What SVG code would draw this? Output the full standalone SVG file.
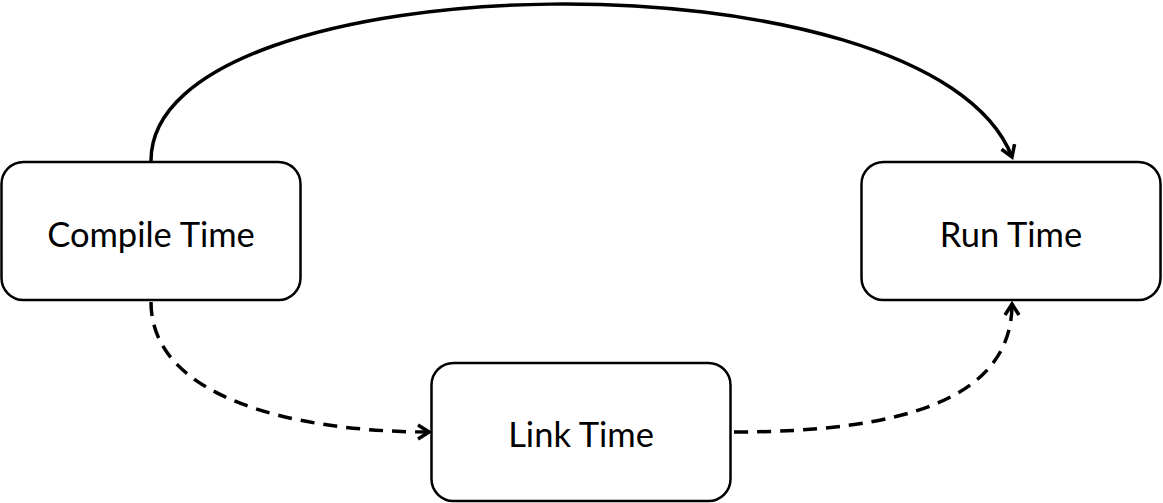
<svg xmlns="http://www.w3.org/2000/svg" width="1163" height="503" viewBox="0 0 1163 503">
<style>
.box{fill:#fff;stroke:#000;stroke-width:2.5}
.lbl{font-family:Lato,"Open Sans",sans-serif;font-size:34.5px;fill:#000;text-anchor:middle}
.edge{fill:none;stroke:#000;stroke-width:3.5}
.dash{stroke-dasharray:14 9}
</style>
<defs>
<marker id="arr" viewBox="0 0 16 18" refX="13" refY="9" markerWidth="16" markerHeight="18" markerUnits="userSpaceOnUse" orient="auto">
<polyline points="2,2 13,9 2,16" fill="none" stroke="#000" stroke-width="3.5"/>
</marker>
</defs>
<rect width="1163" height="503" fill="#fff"/>
<g id="connectors">
<path class="edge" d="M151 161 C 150 -40 930 -55 1012 157" marker-end="url(#arr)"/>
<path class="edge dash" d="M151 302 C 151 400 300 432 429 432" marker-end="url(#arr)"/>
<path class="edge dash" d="M734 432 C 900 432 1012 400 1012 304" marker-end="url(#arr)"/>
</g>
<g id="compile">
<rect class="box" x="1.5" y="162" width="299" height="138" rx="22"/>
<text class="lbl" x="151" y="247">Compile Time</text>
</g>
<g id="run">
<rect class="box" x="861.5" y="162" width="299" height="138" rx="22"/>
<text class="lbl" x="1011" y="247">Run Time</text>
</g>
<g id="link">
<rect class="box" x="431.5" y="363" width="299" height="138" rx="22"/>
<text class="lbl" x="581" y="447">Link Time</text>
</g>
</svg>
